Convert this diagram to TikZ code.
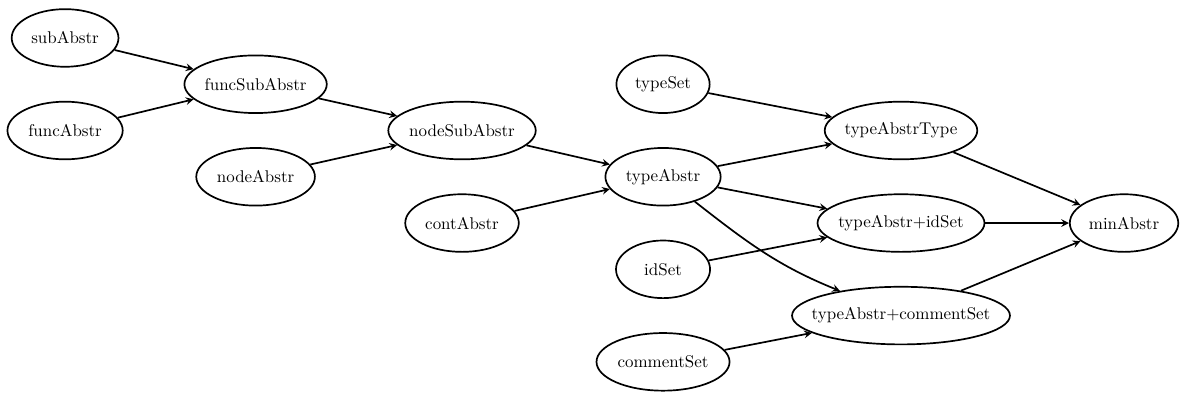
\documentclass[tikz,border=0pt]{standalone}
\usepackage{tikz}
\usetikzlibrary{shapes.geometric, arrows}
\tikzstyle{abstr} = [ellipse, draw=black, line width=1pt, inner xsep=-8pt, inner ysep=0pt, minimum height=34pt]
\usetikzlibrary{positioning}

\begin{document}
\begin{tikzpicture}[node distance=27.3pt]
        \tikzstyle{dep} = [-stealth, line width=1pt]

        \useasboundingbox (0,0) rectangle (697.4pt,-232.5pt);

        \node[abstr, minimum width=63pt] (subAbstr) at (38.4pt,-22.4pt) {subAbstr};
        \node[abstr, minimum width=68pt, node distance=54.6pt, below of=subAbstr] (funcAbstr) {funcAbstr};
        \node[abstr, minimum width=84pt, below of=subAbstr, xshift=112.4pt] (funcSubAbstr) {funcSubAbstr};
        \node[abstr, minimum width=70pt, node distance=54.6pt, below of=funcSubAbstr] (nodeAbstr) {nodeAbstr};
        \node[abstr, minimum width=87pt, below of=funcSubAbstr, xshift=121.8pt] (nodeSubAbstr) {nodeSubAbstr};
        \node[abstr, minimum width=67pt, node distance=54.6pt, below of=nodeSubAbstr] (contAbstr) {contAbstr};

        \node[abstr, minimum width=68pt, below of=nodeSubAbstr, xshift=118.6pt] (typeAbstr) {typeAbstr};
        \node[abstr, minimum width=55pt, node distance=54.6pt, above of=typeAbstr] (typeSet) {typeSet};
        \node[abstr, minimum width=55.5pt, node distance=54.6pt, below of=typeAbstr] (idSet) {idSet};
        \node[abstr, minimum width=78.5pt, node distance=54.6pt, below of=idSet] (commentSet) {commentSet};

        \node[abstr, minimum width=90pt, above of=typeAbstr, xshift=140.4pt] (typeAbstrType) {typeAbstrType};
        \node[abstr, minimum width=98.5pt, below of=typeAbstr, xshift=140.4pt] (typeAbstrId) {typeAbstr+idSet};
        \node[abstr, minimum width=128.6pt, below of=idSet, xshift=140.4pt] (typeAbstrComment) {typeAbstr+commentSet};
        \node[abstr, minimum width=64pt, node distance=131.6pt, right of=typeAbstrId] (minAbstr) {minAbstr};

        \draw[dep] (subAbstr) -- (funcSubAbstr);
        \draw[dep] (funcAbstr) -- (funcSubAbstr);
        \draw[dep] (funcSubAbstr) -- (nodeSubAbstr);
        \draw[dep] (nodeAbstr) -- (nodeSubAbstr);
        \draw[dep] (nodeSubAbstr) -- (typeAbstr);
        \draw[dep] (contAbstr) -- (typeAbstr);
        \draw[dep] (typeSet) -- (typeAbstrType);
        \draw[dep] (typeAbstr) -- (typeAbstrType);
        \draw[dep] (typeAbstr) -- (typeAbstrId);
        \draw[dep] (idSet) -- (typeAbstrId);
        \draw[dep] (typeAbstr) to[out=-38, in=158] (typeAbstrComment);
        \draw[dep] (commentSet) -- (typeAbstrComment);
        \draw[dep] (typeAbstrType) -- (minAbstr);
        \draw[dep] (typeAbstrId) -- (minAbstr);
        \draw[dep] (typeAbstrComment) -- (minAbstr);

    \end{tikzpicture}
\end{document}
